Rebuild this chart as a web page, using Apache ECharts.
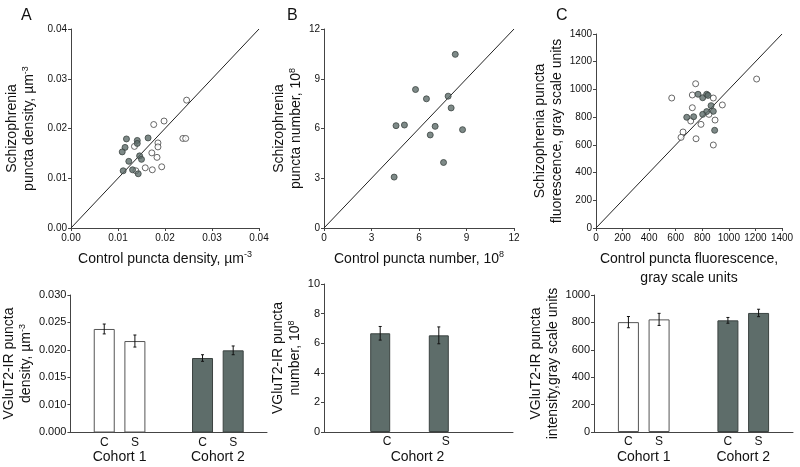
<!DOCTYPE html>
<html>
<head>
<meta charset="utf-8">
<script src="https://cdn.jsdelivr.net/npm/echarts@6/dist/echarts.min.js"></script>
<style>html,body{margin:0;padding:0;background:#fff}#c{width:800px;height:467px}</style>
</head>
<body>
<div id="c"></div>
<script>
// ---------- DATA ----------
// Panel A scatter (control vs schizophrenia puncta density, µm^-3)
const scatterA_open = [[0.0246,0.0257],[0.0198,0.0215],[0.0176,0.0208],[0.0238,0.0180],[0.0244,0.0180],[0.0135,0.0164],[0.0185,0.0171],[0.0185,0.0163],[0.0172,0.0151],[0.0183,0.0142],[0.0158,0.0121],[0.0193,0.0123],[0.0173,0.0117],[0.0138,0.0115]];
const scatterA_filled = [[0.0118,0.0179],[0.0141,0.0176],[0.0141,0.0170],[0.0164,0.0181],[0.0115,0.0162],[0.0109,0.0153],[0.0123,0.0134],[0.0146,0.0145],[0.0150,0.0138],[0.0111,0.0115],[0.0131,0.0117],[0.0143,0.0109]];
const diagA = [[0,0],[0.04,0.04]];
// Panel B scatter (puncta number, 10^8)
const scatterB_filled = [[5.78,8.35],[8.29,10.47],[6.47,7.79],[7.84,7.95],[8.03,7.24],[4.55,6.17],[5.08,6.21],[7.02,6.13],[6.71,5.61],[8.75,5.93],[7.55,3.95],[4.43,3.07]];
const diagB = [[0,0],[12,12]];
// Panel C scatter (puncta fluorescence, gray scale units)
const scatterC_open = [[1209,1075],[570,938],[750,1041],[725,960],[883,938],[951,888],[725,868],[713,772],[896,779],[790,748],[850,820],[655,693],[640,654],[753,644],[883,599]];
const scatterC_filled = [[768,965],[803,940],[833,965],[843,957],[866,883],[833,840],[883,842],[803,820],[683,799],[735,803],[893,705]];
const diagC = [[0,0],[1400,1400]];

// Bar panels
const cohortsAC = ['Cohort 1','Cohort 2'];
const cohortsB = ['Cohort 2'];
const barA_C = [0.0238, 0.0185], barA_C_err = [0.0009, 0.0006];
const barA_S = [0.0216, 0.0199], barA_S_err = [0.0011, 0.0008];
const barB_C = [6.67], barB_C_err = [0.46];
const barB_S = [6.53], barB_S_err = [0.57];
const barC_C = [802, 815], barC_C_err = [41, 21];
const barC_S = [822, 869], barC_S_err = [44, 27];

// tick settings
const ticksA = {min:0, max:0.04, interval:0.01};
const ticksB = {min:0, max:12, interval:3};
const ticksC = {min:0, max:1400, interval:200};
const barTicksA = {min:0.005, max:0.030, interval:0.005};
const barTicksB = {min:0, max:10, interval:2};
const barTicksC = {min:0, max:1000, interval:200};

// ---------- STYLE ----------
const FONT = 'Liberation Sans, Arial, sans-serif';
const DARK = '#5e6d6a';
const DARK_BORDER = '#3b4341';
const AXIS = '#444';
const cohortColorsAC = ['#ffffff', DARK];
const cohortBordersAC = ['#555', DARK_BORDER];
const supRich = {s:{fontSize:9, verticalAlign:'top', fontFamily:FONT, color:'#111', padding:[0,0,6,0]}};

const grids = [
  {left:71, top:29, width:188, height:199},
  {left:324, top:29, width:190, height:199},
  {left:596, top:34, width:186, height:194},
  {left:70, top:295, width:197, height:137},
  {left:324, top:284, width:171, height:148},
  {left:594, top:295, width:199, height:137},
  {left:324, top:284, width:189, height:148}
];

function scatterX(gi, t, name, fmt, gap){
  return {type:'value', gridIndex:gi, min:t.min, max:t.max, interval:t.interval,
    name:name, nameLocation:'middle', nameGap:gap,
    nameTextStyle:{fontSize:14, fontFamily:FONT, color:'#111', lineHeight:19, rich:supRich},
    axisLine:{show:true, lineStyle:{color:AXIS, width:1}},
    axisTick:{show:true, length:3, lineStyle:{color:AXIS}},
    axisLabel:{fontSize:10, fontFamily:FONT, color:'#111', margin:5, formatter:fmt},
    splitLine:{show:false}};
}
function scatterY(gi, t, name, fmt, gap){
  return {type:'value', gridIndex:gi, min:t.min, max:t.max, interval:t.interval,
    name:name, nameLocation:'middle', nameGap:gap, nameRotate:90,
    nameTextStyle:{fontSize:14, fontFamily:FONT, color:'#111', lineHeight:17, rich:supRich},
    axisLine:{show:true, lineStyle:{color:AXIS, width:1}},
    axisTick:{show:true, length:3, lineStyle:{color:AXIS}},
    axisLabel:{fontSize:10, fontFamily:FONT, color:'#111', margin:4, formatter:fmt},
    splitLine:{show:false}};
}
function barX(gi, cats, shift){
  return {type:'category', gridIndex:gi, data:cats,
    axisLine:{show:true, lineStyle:{color:AXIS, width:1}},
    axisTick:{show:false},
    axisLabel:{fontSize:14, fontFamily:FONT, color:'#111', margin:18, padding:[0,0,0,shift*2]}};
}
function barY(gi, t, name, fmt, gap){
  return {type:'value', gridIndex:gi, min:t.min, max:t.max, interval:t.interval,
    name:name, nameLocation:'middle', nameGap:gap, nameRotate:90,
    nameTextStyle:{fontSize:14, fontFamily:FONT, color:'#111', lineHeight:17, rich:supRich},
    axisLine:{show:true, lineStyle:{color:AXIS, width:1}},
    axisTick:{show:true, length:3, lineStyle:{color:AXIS}},
    axisLabel:{fontSize:11, fontFamily:FONT, color:'#111', margin:4, formatter:fmt},
    splitLine:{show:false}};
}

const xAxes = [
  scatterX(0, ticksA, 'Control puncta density, µm{s|-3}', v => v.toFixed(2), 22),
  scatterX(1, ticksB, 'Control puncta number, 10{s|8}', v => String(v), 22),
  scatterX(2, ticksC, 'Control puncta fluorescence,\ngray scale units', v => String(v), 22),
  barX(3, cohortsAC, 0),
  barX(4, cohortsB, 8),
  barX(5, cohortsAC, 0),
  {type:'value', gridIndex:6, min:0, max:1, axisLine:{show:true, onZero:false, lineStyle:{color:AXIS, width:1}}, axisTick:{show:false}, axisLabel:{show:false}, splitLine:{show:false}}
];
const yAxes = [
  scatterY(0, ticksA, 'Schizophrenia\npuncta density, µm{s|-3}', v => v.toFixed(2), 33),
  scatterY(1, ticksB, 'Schizophrenia\npuncta number, 10{s|8}', v => String(v), 11),
  scatterY(2, ticksC, 'Schizophrenia puncta\nfluorescence, gray scale units', v => String(v), 29),
  barY(3, barTicksA, 'VGluT2-IR puncta\ndensity, µm{s|-3}', v => (v < 0.0075 ? '0.000' : v.toFixed(3)), 32),
  barY(4, barTicksB, 'VGluT2-IR puncta\nnumber, 10{s|8}', v => String(v), 16),
  barY(5, barTicksC, 'VGluT2-IR puncta\nintensity,gray scale units', v => String(v), 31),
  {type:'value', gridIndex:6, min:0, max:1, show:false}
];

function diagSeries(gi, data){
  return {type:'line', xAxisIndex:gi, yAxisIndex:gi, data:data, symbol:'none', silent:true,
    lineStyle:{color:'#222', width:1}, z:1};
}
function scatSeries(gi, data, filled){
  return {type:'scatter', xAxisIndex:gi, yAxisIndex:gi, data:data, symbol:'circle', symbolSize:6,
    itemStyle: filled ? {color:DARK, borderColor:DARK_BORDER, borderWidth:1}
                      : {color:'#fff', borderColor:'#444', borderWidth:1}, z:3};
}
function barSeries(gi, name, vals, colors, borders, width, gap, labelShift){
  return {type:'bar', name:name, xAxisIndex:gi, yAxisIndex:gi, barWidth:width, barGap:gap,
    data: vals.map((v,i) => ({value:v, itemStyle:{color:colors[i], borderColor:borders[i], borderWidth:1}})),
    label:{show:true, position:'bottom', distance:4, offset:[labelShift,0], formatter:name, fontSize:12, fontFamily:FONT, color:'#111'},
    z:2};
}
function errSeries(gi, vals, errs, offsetPx){
  return {type:'custom', xAxisIndex:gi, yAxisIndex:gi, silent:true, z:5,
    data: vals.map((v,i) => [i, v, errs[i]]),
    encode:{x:0, y:1},
    renderItem:function(params, api){
      const idx = api.value(0), m = api.value(1), e = api.value(2);
      const x = api.coord([idx, m])[0] + offsetPx;
      const yt = api.coord([idx, m + e])[1];
      const yb = api.coord([idx, m - e])[1];
      const st = {stroke:'#111', lineWidth:1};
      return {type:'group', children:[
        {type:'line', shape:{x1:x, y1:yt, x2:x, y2:yb}, style:st},
        {type:'line', shape:{x1:x-1.5, y1:yt, x2:x+1.5, y2:yt}, style:st},
        {type:'line', shape:{x1:x-1.5, y1:yb, x2:x+1.5, y2:yb}, style:st}
      ]};
    }};
}

const W_AC = 21, GAP_AC = '46%';
const offAC = (W_AC + W_AC*0.46)/2;
const W_B = 20, GAP_B = '193%';
const offB = (W_B + W_B*1.93)/2;

const series = [
  diagSeries(0, diagA), scatSeries(0, scatterA_open, false), scatSeries(0, scatterA_filled, true),
  diagSeries(1, diagB), scatSeries(1, scatterB_filled, true),
  diagSeries(2, diagC), scatSeries(2, scatterC_open, false), scatSeries(2, scatterC_filled, true),
  barSeries(3, 'C', barA_C, cohortColorsAC, cohortBordersAC, W_AC, GAP_AC, 0),
  barSeries(3, 'S', barA_S, cohortColorsAC, cohortBordersAC, W_AC, GAP_AC, 0),
  errSeries(3, barA_C, barA_C_err, -offAC), errSeries(3, barA_S, barA_S_err, offAC),
  barSeries(4, 'C', barB_C, [DARK], [DARK_BORDER], W_B, GAP_B, 7),
  barSeries(4, 'S', barB_S, [DARK], [DARK_BORDER], W_B, GAP_B, 7),
  errSeries(4, barB_C, barB_C_err, -offB), errSeries(4, barB_S, barB_S_err, offB),
  barSeries(5, 'C', barC_C, cohortColorsAC, cohortBordersAC, W_AC, GAP_AC, 0),
  barSeries(5, 'S', barC_S, cohortColorsAC, cohortBordersAC, W_AC, GAP_AC, 0),
  errSeries(5, barC_C, barC_C_err, -offAC), errSeries(5, barC_S, barC_S_err, offAC)
];

const chart = echarts.init(document.getElementById('c'), null, {renderer:'canvas'});
chart.setOption({
  backgroundColor:'#fff',
  animation:false,
  textStyle:{fontFamily:FONT},
  title:[
    {text:'A', left:16, top:3, textStyle:{fontSize:16, fontWeight:'normal', fontFamily:FONT, color:'#111'}},
    {text:'B', left:282, top:3, textStyle:{fontSize:16, fontWeight:'normal', fontFamily:FONT, color:'#111'}},
    {text:'C', left:551, top:3, textStyle:{fontSize:16, fontWeight:'normal', fontFamily:FONT, color:'#111'}}
  ],
  grid: grids,
  xAxis: xAxes,
  yAxis: yAxes,
  series: series
});
</script>
</body>
</html>
